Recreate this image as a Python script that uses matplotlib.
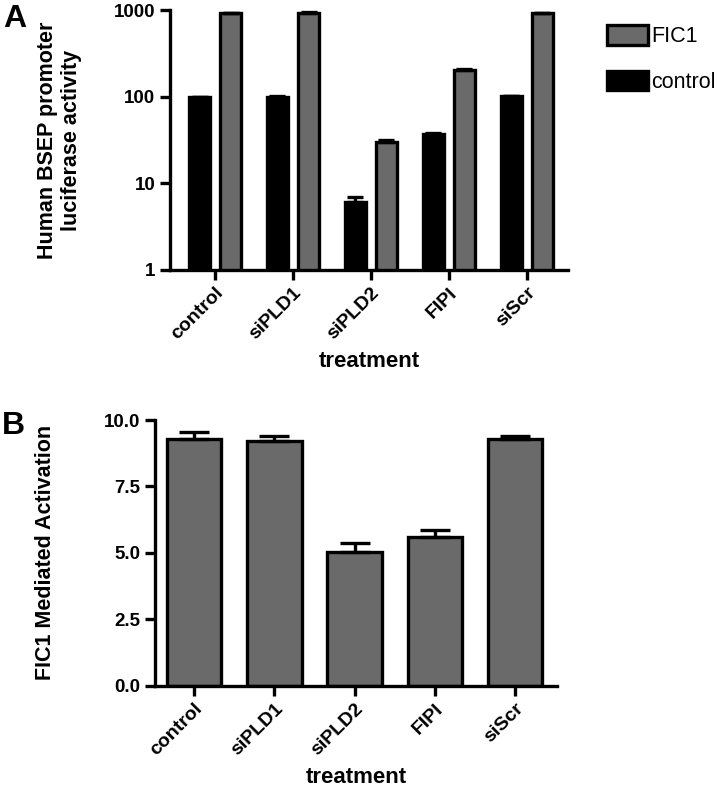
import numpy as np
import matplotlib
matplotlib.use("Agg")
import matplotlib.pyplot as plt

plt.rcParams["font.family"] = ["Liberation Sans", "DejaVu Sans"]

# ── data ─────────────────────────────────────────────────────────────────────
treatments   = ["control", "siPLD1", "siPLD2", "FIPI", "siScr"]
ctrl_vals    = [99, 100, 6.1, 37, 101]
ctrl_err     = [1.5, 1.5, 0.8, 1.5, 1.5]
fic1_vals    = [930, 935, 30, 203, 925]
fic1_err     = [12, 12, 2.0, 6, 12]
activation   = [9.29, 9.21, 5.03, 5.60, 9.28]
activation_e = [0.26, 0.19, 0.34, 0.25, 0.13]

GRAY = "#6a6a6a"
LW = 2.4

fig = plt.figure(figsize=(7.17, 7.91), dpi=100)


def style_axes(ax):
    for s in ("top", "right"):
        ax.spines[s].set_visible(False)
    for s in ("left", "bottom"):
        ax.spines[s].set_linewidth(LW)
    ax.tick_params(axis="both", width=LW, length=7)
    ax.tick_params(axis="y", labelsize=13.5)
    ax.tick_params(axis="x", labelsize=14)
    for lab in ax.get_yticklabels():
        lab.set_fontweight("bold")


# ── panel A ──────────────────────────────────────────────────────────────────
axA = fig.add_axes([0.237, 0.659, 0.555, 0.328])
x = np.arange(len(treatments))
w = 0.27
off = 0.2
axA.bar(x - off, ctrl_vals, w, color="black", edgecolor="black",
        linewidth=LW, label="control", zorder=2)
axA.bar(x + off, fic1_vals, w, color=GRAY, edgecolor="black",
        linewidth=LW, label="FIC1", zorder=2)
axA.errorbar(x - off, ctrl_vals, yerr=[np.zeros(5), ctrl_err], fmt="none",
             ecolor="black", elinewidth=LW, capsize=6, capthick=LW, zorder=3)
axA.errorbar(x + off, fic1_vals, yerr=[np.zeros(5), fic1_err], fmt="none",
             ecolor="black", elinewidth=LW, capsize=6, capthick=LW, zorder=3)
axA.set_yscale("log")
axA.set_ylim(1, 1000)
axA.set_yticks([1, 10, 100, 1000])
axA.set_yticklabels(["1", "10", "100", "1000"])
axA.minorticks_off()
axA.set_xlim(-0.58, 4.53)
axA.set_xticks(x)
axA.set_xticklabels(treatments, rotation=45, ha="right", rotation_mode="anchor",
                    fontweight="bold")
axA.set_ylabel("Human BSEP promoter\nluciferase activity", fontsize=15.5,
               fontweight="bold")
axA.yaxis.set_label_coords(-0.221, 0.5)
axA.set_xlabel("treatment", fontsize=16, fontweight="bold", labelpad=6)
style_axes(axA)

handles, labels = axA.get_legend_handles_labels()
axA.legend(handles[::-1], labels[::-1], loc="upper left",
           bbox_to_anchor=(1.06, 1.0), frameon=False, fontsize=15.5,
           handlelength=1.9, handleheight=1.0, handletextpad=0.15,
           labelspacing=1.1, borderaxespad=0.3)

# ── panel B ──────────────────────────────────────────────────────────────────
axB = fig.add_axes([0.216, 0.133, 0.561, 0.336])
axB.bar(x, activation, 0.68, color=GRAY, edgecolor="black", linewidth=LW,
        zorder=2)
axB.errorbar(x, activation, yerr=[np.zeros(5), activation_e], fmt="none",
             ecolor="black", elinewidth=LW, capsize=11, capthick=LW, zorder=3)
axB.set_ylim(0, 10)
axB.set_yticks([0, 2.5, 5.0, 7.5, 10.0])
axB.set_yticklabels(["0.0", "2.5", "5.0", "7.5", "10.0"])
axB.set_xlim(-0.49, 4.525)
axB.set_xticks(x)
axB.set_xticklabels(treatments, rotation=45, ha="right", rotation_mode="anchor",
                    fontweight="bold")
axB.set_ylabel("FIC1 Mediated Activation", fontsize=15.5, fontweight="bold")
axB.yaxis.set_label_coords(-0.245, 0.5)
axB.set_xlabel("treatment", fontsize=16, fontweight="bold", labelpad=6)
style_axes(axB)

fig.text(0.005, 0.995, "A", fontsize=23, fontweight="bold", va="top")
fig.text(0.002, 0.481, "B", fontsize=23, fontweight="bold", va="top")

fig.savefig("out.png", dpi=100)
